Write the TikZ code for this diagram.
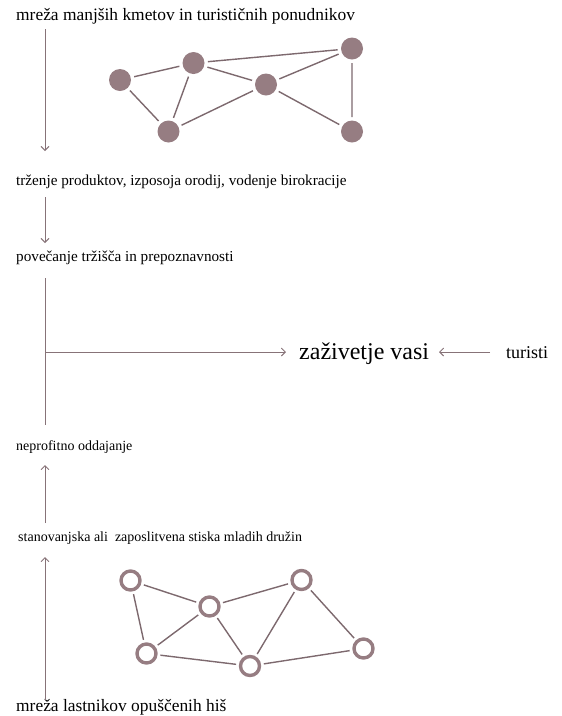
\documentclass[tikz,border=0pt]{standalone}
\usepackage{fontspec}
\setmainfont{Liberation Serif}
\usetikzlibrary{arrows.meta}
\definecolor{mauve}{RGB}{150,125,130}
\definecolor{edgec}{RGB}{125,105,110}
\definecolor{arrc}{RGB}{135,115,120}
\tikzset{
  lbl/.style={anchor=base west,inner sep=0pt,text=black},
  big/.style={lbl,font=\fontsize{17.4}{20}\selectfont},
  small/.style={lbl,font=\fontsize{14}{16}\selectfont},
  mid/.style={lbl,font=\fontsize{15.2}{17}\selectfont},
  dot/.style={circle,fill=mauve,minimum size=22pt,inner sep=0pt,outer sep=3.5pt},
  ring/.style={circle,draw=mauve,line width=3.4pt,minimum size=19pt,inner sep=0pt,outer sep=4.5pt},
  edge/.style={draw=edgec,line width=1.4pt},
  arr/.style={draw=arrc,line width=0.9pt,-{Straight Barb[length=4pt,width=8pt]}},
  plain/.style={draw=arrc,line width=0.9pt}
}
\begin{document}
\begin{tikzpicture}[x=1pt,y=-1pt]
\useasboundingbox (0,0) rectangle (562,716);
% texts
\node[big] (t1) at (16,20) {mreža manjših kmetov in turističnih ponudnikov};
\node[mid] (t2) at (16,185) {trženje produktov, izposoja orodij, vodenje birokracije};
\node[mid] (t3) at (16,261) {povečanje tržišča in prepoznavnosti};
\node[small] (t4) at (16,450) {neprofitno oddajanje};
\node[small] (t5) at (18,541) {stanovanjska ali\ \ zaposlitvena stiska mladih družin};
\node[big] (t6) at (16,711) {mreža lastnikov opuščenih hiš};
\node[lbl,font=\fontsize{24}{27}\selectfont] (zv) at (299,359.5) {zaživetje vasi};
\node[lbl,font=\fontsize{18}{20}\selectfont] (tu) at (506,358) {turisti};
% arrow ends
\coordinate (a1s) at (45,29);  \coordinate (a1e) at (45,151);
\coordinate (a2s) at (45,197); \coordinate (a2e) at (45,243);
\coordinate (vtop) at (45,278); \coordinate (vbot) at (45,425);
\coordinate (vj) at (45,352);  \coordinate (vje) at (286,352);
\coordinate (a3s) at (45,523); \coordinate (a3e) at (45,465);
\coordinate (a4s) at (45,700); \coordinate (a4e) at (45,557);
\coordinate (tus) at (490,352); \coordinate (tue) at (439,352);
\draw[arr] (a1s) -- (a1e);
\draw[arr] (a2s) -- (a2e);
\draw[plain] (vtop) -- (vbot);
\draw[arr] (vj) -- (vje);
\draw[arr] (tus) -- (tue);
\draw[arr] (a3s) -- (a3e);
\draw[arr] (a4s) -- (a4e);
% top network
\node[dot] (p1) at (120,80) {};
\node[dot] (p2) at (193.5,63) {};
\node[dot] (p3) at (266,84.5) {};
\node[dot] (p4) at (352,48.5) {};
\node[dot] (p5) at (168.5,131.5) {};
\node[dot] (p6) at (352,131.5) {};
\path[edge] (p1) -- (p2) (p1) -- (p5) (p2) -- (p5) (p2) -- (p4)
  (p2) -- (p3) (p3) -- (p4) (p3) -- (p5) (p3) -- (p6) (p4) -- (p6);
% bottom network
\node[ring] (q1) at (130.5,580.5) {};
\node[ring] (q2) at (209.5,606.5) {};
\node[ring] (q3) at (301.5,580) {};
\node[ring] (q4) at (146.5,653.5) {};
\node[ring] (q5) at (250,666) {};
\node[ring] (q6) at (363.5,648.5) {};
\path[edge] (q1) -- (q2) (q1) -- (q4) (q2) -- (q4) (q2) -- (q5) (q2) -- (q3)
  (q3) -- (q5) (q3) -- (q6) (q4) -- (q5) (q5) -- (q6);
\end{tikzpicture}
\end{document}
